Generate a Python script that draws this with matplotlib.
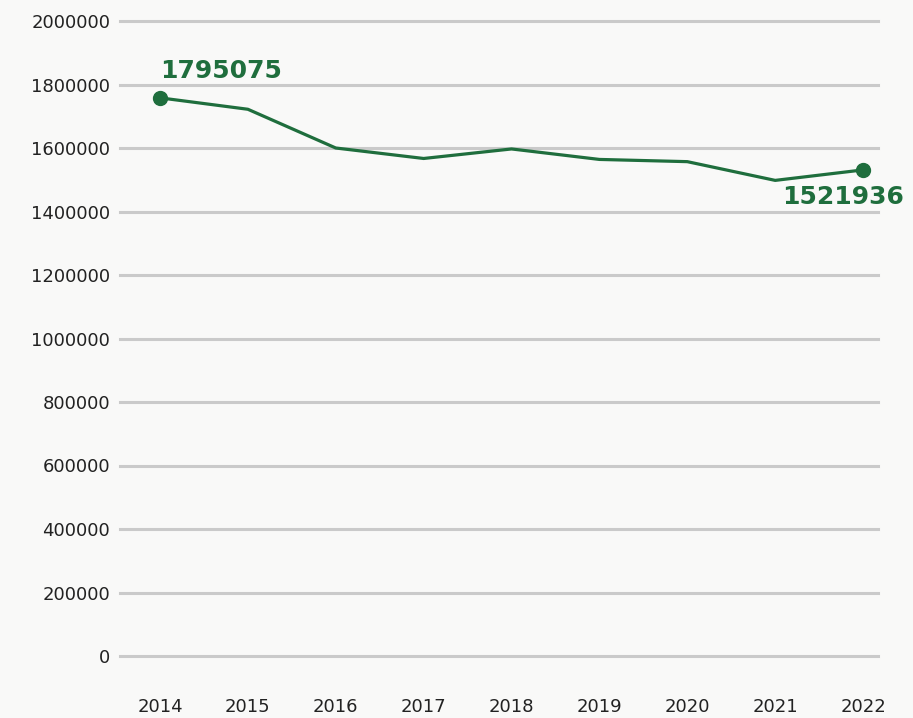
import matplotlib.pyplot as plt
import numpy as np

years = ['2014', '2015', '2016', '2017', '2018', '2019', '2020', '2021', '2022']
values = [1758000, 1722000, 1600000, 1567000, 1597000, 1564000, 1557000, 1498000, 1531000]
first_label = '1795075'
last_label = '1521936'
yticks = [0, 200000, 400000, 600000, 800000, 1000000, 1200000, 1400000, 1600000, 1800000, 2000000]

green = '#1f6e3d'
bg = '#f9f9f8'

fig = plt.figure(figsize=(9.13, 7.18), dpi=100, facecolor=bg)
ax = fig.add_axes([120 / 913, 1 - 656 / 718, 758 / 913, 635 / 718], facecolor=bg)

x = np.arange(len(years))
ax.plot(x, values, color=green, lw=2.3, zorder=3, clip_on=False)
ax.plot([x[0], x[-1]], [values[0], values[-1]], 'o', color=green, ms=10, zorder=4, clip_on=False)

ax.annotate(first_label, (x[0], values[0]), xytext=(0, 11), textcoords='offset points',
            color=green, fontsize=18, fontweight='bold', ha='left', va='bottom')
ax.annotate(last_label, (x[-1], values[-1]), xytext=(-58, -11), textcoords='offset points',
            color=green, fontsize=18, fontweight='bold', ha='left', va='top')

ax.set_xlim(-0.455, 8.17)
ax.set_ylim(0, 2000000)
ax.set_yticks(yticks)
ax.set_yticklabels([str(v) for v in yticks])
ax.set_xticks(x)
ax.set_xticklabels(years)
ax.grid(axis='y', color='#cacaca', lw=2.2)
for gl in ax.get_ygridlines():
    gl.set_clip_on(False)
ax.set_axisbelow(True)
for s in ax.spines.values():
    s.set_visible(False)
ax.tick_params(axis='both', length=0, labelsize=13, colors='#222222')
ax.tick_params(axis='y', pad=7)
ax.tick_params(axis='x', pad=30)

fig.savefig('out.png', dpi=100, facecolor=bg)
